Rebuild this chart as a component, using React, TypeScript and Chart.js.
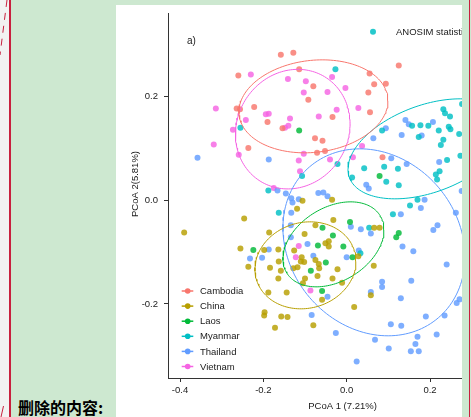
import React, { useEffect, useRef } from "react";
import { Chart, registerables } from "chart.js";

Chart.register(...registerables);

// ---------- data ----------
const groupNames = ["Cambodia", "China", "Laos", "Myanmar", "Thailand", "Vietnam"];
const groupColors = ["#F8766D", "#B79F00", "#00BA38", "#00BFC4", "#619CFF", "#F564E3"];

const cambodiaX = [-0.158, -0.128, -0.114, -0.26, -0.08, -0.092, -0.222, -0.264, -0.256, -0.19, -0.154, -0.076, 0.055, 0.125, 0.066, 0.094, 0.052, -0.034, 0.056, -0.058, -0.236, -0.071, -0.052, 0.086];
const cambodiaY = [0.281, 0.285, 0.253, 0.241, 0.22, 0.194, 0.18, 0.177, 0.176, 0.151, 0.139, 0.12, 0.245, 0.26, 0.224, 0.225, 0.208, 0.161, 0.17, 0.115, 0.101, 0.092, 0.095, 0.083];

const chinaX = [-0.39, -0.246, -0.106, -0.119, -0.035, -0.186, -0.101, -0.075, -0.032, 0.066, 0.079, -0.255, -0.198, -0.164, -0.126, -0.108, -0.043, -0.051, -0.043, 0.028, -0.236, -0.184, -0.163, -0.158, -0.118, -0.128, -0.11, -0.102, -0.075, -0.067, -0.066, -0.022, 0.065, -0.164, -0.1, -0.105, -0.07, -0.034, -0.011, -0.188, -0.144, -0.059, -0.197, -0.198, -0.157, -0.142, -0.172, -0.08, 0.018, 0.058];
const chinaY = [-0.062, -0.035, -0.001, -0.016, 0.001, -0.062, -0.065, -0.048, -0.038, -0.053, -0.053, -0.093, -0.096, -0.095, -0.097, -0.11, -0.079, -0.083, -0.089, -0.108, -0.128, -0.13, -0.118, -0.136, -0.129, -0.131, -0.118, -0.119, -0.115, -0.123, -0.131, -0.133, -0.126, -0.151, -0.151, -0.16, -0.146, -0.151, -0.159, -0.178, -0.178, -0.192, -0.216, -0.222, -0.224, -0.225, -0.246, -0.241, -0.206, -0.183];

const laosX = [-0.114, 0.079, -0.224, 0.008, -0.058, -0.033, -0.069, -0.008, 0.125, 0.119, 0.014, -0.05, -0.086, -0.059];
const laosY = [0.135, 0.047, -0.096, -0.042, -0.053, -0.068, -0.087, -0.089, -0.063, -0.071, -0.11, -0.12, -0.136, -0.175];

const myanmarX = [-0.255, -0.027, 0.157, 0.177, 0.196, 0.085, 0.221, 0.173, 0.232, 0.236, 0.248, 0.245, 0.249, 0.27, 0.232, 0.226, 0.277, -0.107, -0.188, -0.163, -0.022, 0.042, 0.09, 0.123, 0.013, 0.095, 0.125, 0.241, 0.273, 0.223, 0.214, 0.217, 0.17, 0.152, 0.111, 0.054, 0.033];
const myanmarY = [0.14, 0.253, 0.144, 0.145, 0.144, 0.135, 0.135, 0.122, 0.176, 0.168, 0.162, 0.142, 0.137, 0.128, 0.117, 0.107, 0.186, 0.047, 0.019, -0.024, 0.07, 0.062, 0.065, 0.061, 0.044, 0.036, 0.029, 0.078, 0.086, 0.056, 0.05, 0.04, 0.001, -0.01, -0.027, -0.053, -0.102];

const thailandX = [-0.358, -0.187, -0.166, -0.146, -0.133, -0.13, -0.115, -0.133, -0.134, -0.134, -0.094, -0.187, -0.232, -0.203, -0.08, -0.068, -0.056, -0.046, 0.107, 0.144, 0.047, 0.053, 0.222, 0.276, 0.187, 0.178, 0.13, 0.262, 0.01, 0.034, 0.058, 0.218, 0.208, 0.134, 0.16, 0.029, 0.0, 0.24, -0.046, -0.084, -0.026, 0.058, 0.085, 0.085, 0.155, 0.13, 0.068, 0.106, 0.131, 0.101, 0.17, 0.165, 0.154, 0.173, 0.19, 0.216, 0.235, 0.264, 0.271, 0.024, 0.141, 0.149, 0.094, 0.064, 0.132, 0.207, 0.18];
const thailandY = [0.082, 0.079, 0.019, 0.013, 0.004, -0.004, 0.002, -0.024, -0.048, -0.071, -0.084, -0.095, -0.112, -0.111, -0.107, 0.014, 0.015, 0.008, 0.081, 0.07, 0.03, 0.023, 0.074, 0.018, 0.001, -0.015, -0.027, -0.024, -0.051, -0.056, -0.064, -0.048, -0.057, -0.089, -0.098, -0.097, -0.11, -0.124, -0.186, -0.221, -0.256, -0.177, -0.157, -0.167, -0.155, -0.189, -0.269, -0.239, -0.242, -0.286, -0.263, -0.277, -0.291, -0.291, -0.224, -0.259, -0.222, -0.198, -0.191, -0.311, 0.155, 0.147, 0.139, 0.12, 0.126, 0.151, 0.125];

const vietnamX = [-0.23, -0.141, -0.098, -0.103, -0.314, -0.242, -0.194, -0.187, -0.136, -0.14, -0.148, -0.273, -0.319, -0.035, -0.003, -0.046, -0.067, -0.024, 0.028, -0.259, -0.115, -0.103, -0.112, -0.175, -0.04, 0.015, 0.037, -0.115, -0.122, -0.087];
const vietnamY = [0.243, 0.234, 0.23, 0.208, 0.177, 0.155, 0.166, 0.167, 0.158, 0.144, 0.14, 0.136, 0.108, 0.238, 0.217, 0.209, 0.162, 0.175, 0.178, 0.088, 0.077, 0.09, 0.056, 0.024, 0.079, 0.083, 0.105, -0.088, -0.11, -0.174];

const groupX = [cambodiaX, chinaX, laosX, myanmarX, thailandX, vietnamX];
const groupY = [cambodiaY, chinaY, laosY, myanmarY, thailandY, vietnamY];

// confidence ellipses: centre and covariance (data units), one entry per group
const ellipseCx = [-0.0797, -0.0989, -0.0317, 0.194, 0.0655, -0.1294];
const ellipseCy = [0.1814, -0.1254, -0.0849, 0.0994, -0.081, 0.1374];
const ellipseVarX = [0.03199, 0.0147, 0.0147, 0.03643, 0.04774, 0.01893];
const ellipseVarY = [0.008048, 0.007043, 0.006723, 0.009306, 0.03254, 0.01331];
const ellipseCov = [0.001899, 0.000926, 0.003391, 0.007528, -0.006064, 0.00139];

const xTickValues = [-0.4, -0.2, 0.0, 0.2];
const yTickValues = [-0.2, 0.0, 0.2];
const xAxisMin = -0.4288;
const xAxisMax = 0.2768;
const yAxisMin = -0.3428;
const yAxisMax = 0.3615;

const xTitle = "PCoA 1 (7.21%)";
const yTitle = "PCoA 2(5.81%)";
const panelLabel = "a)";
const anosimLabel = "ANOSIM statistic R";
const deletedLabel = "删除的内容:";

// ---------- helpers ----------
function rgba(hex: string, a: number) {
  const n = parseInt(hex.slice(1), 16);
  return `rgba(${(n >> 16) & 255},${(n >> 8) & 255},${n & 255},${a})`;
}

function ellipsePoints(i: number) {
  const l11 = Math.sqrt(ellipseVarX[i]);
  const l21 = ellipseCov[i] / l11;
  const l22 = Math.sqrt(ellipseVarY[i] - l21 * l21);
  const pts: { x: number; y: number }[] = [];
  const n = 160;
  for (let k = 0; k <= n; k++) {
    const t = (k / n) * Math.PI * 2;
    const c = Math.cos(t);
    const s = Math.sin(t);
    pts.push({ x: ellipseCx[i] + l11 * c, y: ellipseCy[i] + l21 * c + l22 * s });
  }
  return pts;
}

const FAM = '"Liberation Sans", Arial, Helvetica, sans-serif';
const TEXT = "#1a1a1a";

const overlayPlugin = {
  id: "overlay",
  afterDraw(chart: any) {
    const { ctx, chartArea: ca } = chart;
    ctx.save();
    ctx.textBaseline = "middle";
    ctx.textAlign = "left";
    ctx.fillStyle = TEXT;
    ctx.font = `10px ${FAM}`;
    ctx.fillText(panelLabel, ca.left + 19, ca.top + 28.5);

    // ANOSIM annotation
    ctx.beginPath();
    ctx.arc(ca.left + 205, ca.top + 18.7, 3, 0, Math.PI * 2);
    ctx.fillStyle = rgba(groupColors[3], 0.85);
    ctx.fill();
    ctx.fillStyle = TEXT;
    ctx.font = `9.5px ${FAM}`;
    ctx.fillText(anosimLabel, ca.left + 228, ca.top + 19.7);

    // legend
    groupNames.forEach((name, i) => {
      const y = ca.bottom - 87 + i * 15.1;
      ctx.strokeStyle = groupColors[i];
      ctx.lineWidth = 1.5;
      ctx.beginPath();
      ctx.moveTo(ca.left + 13.7, y);
      ctx.lineTo(ca.left + 25.3, y);
      ctx.stroke();
      ctx.beginPath();
      ctx.arc(ca.left + 19.7, y, 2.8, 0, Math.PI * 2);
      ctx.fillStyle = groupColors[i];
      ctx.fill();
      ctx.fillStyle = TEXT;
      ctx.fillText(name, ca.left + 32, y + 0.5);
    });

    // axis titles
    ctx.textAlign = "center";
    ctx.fillText(xTitle, 226.5, 401.5);
    ctx.translate(19, 179);
    ctx.rotate(-Math.PI / 2);
    ctx.fillText(yTitle, 0, 0);
    ctx.restore();
  },
};

function ScatterChart() {
  const ref = useRef<HTMLCanvasElement | null>(null);
  useEffect(() => {
    if (!ref.current) return;
    const pointSets = groupNames.map((name, i) => ({
      type: "scatter" as const,
      label: name,
      data: groupX[i].map((x, k) => ({ x, y: groupY[i][k] })),
      backgroundColor: rgba(groupColors[i], 0.82),
      borderWidth: 0,
      pointRadius: 3,
      order: 1,
    }));
    const ellipseSets = groupNames.map((name, i) => ({
      type: "line" as const,
      label: name + " ellipse",
      data: ellipsePoints(i),
      borderColor: groupColors[i],
      borderWidth: 1,
      pointRadius: 0,
      fill: false,
      tension: 0,
      order: 0,
    }));
    const tickFont = { family: FAM, size: 9.5 };
    const chart = new Chart(ref.current, {
      type: "scatter",
      data: { datasets: [...pointSets, ...ellipseSets] as any },
      options: {
        responsive: false,
        maintainAspectRatio: false,
        animation: false,
        layout: { autoPadding: false, padding: { top: 8, left: 0, right: 0, bottom: 0 } },
        plugins: { legend: { display: false }, tooltip: { enabled: false } },
        scales: {
          x: {
            type: "linear",
            min: xAxisMin,
            max: xAxisMax,
            afterFit: (s: any) => {
              s.height = 39;
              s.paddingLeft = 0;
              s.paddingRight = 0;
            },
            afterBuildTicks: (s: any) => {
              s.ticks = xTickValues.map((v) => ({ value: v }));
            },
            ticks: {
              callback: (v: any) => Number(v).toFixed(1),
              font: tickFont,
              color: TEXT,
              padding: 3,
              maxRotation: 0,
              autoSkip: false,
            },
            grid: { drawOnChartArea: false, drawTicks: true, tickLength: 4, color: "#333", lineWidth: 1 },
            border: { display: true, color: "#333", width: 1 },
          },
          y: {
            type: "linear",
            min: yAxisMin,
            max: yAxisMax,
            afterFit: (s: any) => {
              s.width = 52;
              s.paddingTop = 0;
              s.paddingBottom = 0;
            },
            afterBuildTicks: (s: any) => {
              s.ticks = yTickValues.map((v) => ({ value: v }));
            },
            ticks: {
              callback: (v: any) => Number(v).toFixed(1),
              font: tickFont,
              color: TEXT,
              padding: 6,
              autoSkip: false,
            },
            grid: { drawOnChartArea: false, drawTicks: true, tickLength: 4, color: "#333", lineWidth: 1 },
            border: { display: true, color: "#333", width: 1 },
          },
        },
      },
      plugins: [overlayPlugin],
    } as any);
    return () => chart.destroy();
  }, []);
  return <canvas ref={ref} width={346} height={412} style={{ display: "block", width: 346, height: 412 }} />;
}

export default function App() {
  return (
    <div
      style={{
        position: "absolute",
        left: 0,
        top: 0,
        width: 471,
        height: 417,
        overflow: "hidden",
        background: "#cde8d0",
      }}
    >
      <div style={{ position: "absolute", left: 0, top: 0, width: 9, height: 417, background: "#f2f2f2" }} />
      <svg width={12} height={417} style={{ position: "absolute", left: 0, top: 0 }}>
        <line x1={7} y1={0} x2={0} y2={55} stroke="#c8203e" strokeWidth={1} strokeDasharray="7 6" />
        <line x1={1} y1={417} x2={3.5} y2={406} stroke="#c8203e" strokeWidth={1} />
      </svg>
      <div style={{ position: "absolute", left: 9, top: 0, width: 1.5, height: 417, background: "#c8203e" }} />
      <div style={{ position: "absolute", left: 468.5, top: 0, width: 1.5, height: 417, background: "#c8203e" }} />
      <div
        style={{
          position: "absolute",
          left: 116,
          top: 5,
          width: 346,
          height: 412,
          background: "#ffffff",
          overflow: "hidden",
        }}
      >
        <ScatterChart />
      </div>
      <div
        style={{
          position: "absolute",
          left: 18,
          top: 398,
          fontFamily: '"Noto Sans CJK SC", sans-serif',
          fontWeight: 700,
          fontSize: 16,
          lineHeight: "18px",
          color: "#000",
          whiteSpace: "nowrap",
        }}
      >
        {deletedLabel}
      </div>
    </div>
  );
}
